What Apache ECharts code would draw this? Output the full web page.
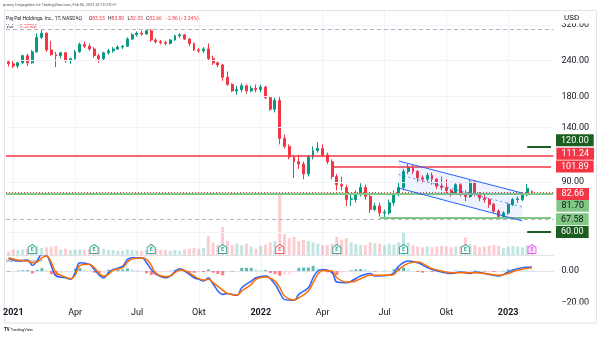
<!DOCTYPE html>
<html><head><meta charset="utf-8">
<script src="https://cdn.jsdelivr.net/npm/echarts@6.0.0/dist/echarts.min.js"></script>
<style>html,body{margin:0;padding:0;background:#fff}#c{width:600px;height:337px}</style>
</head><body><div id="c"></div>
<script>
// ---------- data ----------
const firstWeek = [2020, 11, 28];        // Monday of first weekly bar (Dec 28 2020)
const weekCount = 115;                  // 111 weekly bars + empty space on the right
const monthNames = ['Jan','Feb','Mär','Apr','Mai','Jun','Jul','Aug','Sep','Okt','Nov','Dez'];
// weekly candles: [open, close, low, high]
const ohlc = [
 [238,234,229,242],[234,230,226,240],[230,236,226,238],[236,250,234,252],[250,236,230,254],
 [236,258,234,262],[258,290,256,300],[290,300,286,310],[300,262,258,302],[262,252,250,282],
 [252,250,228,258],[250,256,244,258],[256,240,236,258],[240,244,234,246],[244,258,242,262],
 [258,274,256,278],[274,270,266,280],[270,264,260,276],[264,250,246,268],[250,244,236,254],
 [244,256,240,258],[256,260,252,264],[260,264,256,268],[264,268,262,272],[268,270,264,272],
 [270,286,268,290],[286,296,284,300],[296,300,292,304],[300,298,294,306],[298,306,296,310],
 [306,284,280,310],[284,280,276,288],[280,278,274,284],[278,276,272,282],[276,284,274,286],
 [284,294,282,296],[294,296,288,300],[296,286,284,298],[286,276,270,288],[276,262,260,278],
 [262,260,256,266],[260,264,256,268],[264,244,240,276],[244,236,232,250],[236,232,228,238],
 [232,210,204,234],[210,198,196,220],[198,188,186,200],[188,190,182,196],[190,196,186,200],
 [196,188,184,198],[188,192,186,196],[192,190,186,198],[190,194,186,198],[194,178,176,196],
 [178,162,160,180],[162,174,158,178],[174,128,122,180],[128,120,118,132],[120,110,108,122],
 [110,106,93,112],[106,104,100,112],[104,96,92,106],[96,110,94,112],[110,116,108,120],
 [116,118,114,124],[118,112,110,122],[112,106,104,114],[106,94,92,108],[94,88,84,96],
 [88,87,84,94],[86,78,74,88],[78,78.5,74,82],[78,82,76,84],[82,86,80,89],
 [86,80,78,88],[80,72,70,82],[72,74,71,76],[74,70,68,76],[70,70.5,67.58,72],
 [70,76,69,78],[76,82,74,84],[82,86,80,90],[86,98,84,100],[98,101,96,104],
 [101,98,96,104],[98,93,90,99],[93,92,89,95],[92,95,90,97],[95,92,88,97],
 [92,87,85,93],[87,86,84,94],[86,84,82,92],[84,82,80,85],[82,88,81,89],
 [88,82,80,89],[82,80,77,84],[80,90,79,92],[90,82,80,91],[82,79,77,83],
 [79,78,76,81],[78,75,73,79],[75,71,70,76],[71,68,67,72],[68,70,66.39,71],
 [70,75,69,76],[75,78,74,79],[78,78.5,76,80],[78,81,77,82],[81,85.52,80,88.5],
 [83.33,82.66,82.33,83.80]
];
// volume (millions)
const volume = [
 5,8,7,8,9,14,12,10,11,12, 13,8,9,7,8,8,7,9,12,11, 9,7,7,6,6,8,7,6,6,7,
 16,9,7,7,6,7,6,8,9,10, 9,10,27,18,14,40,20,14,16,14, 16,12,9,13,15,18,20,88,30,24,
 26,20,22,20,18,16,14,14,16,26, 22,24,18,16,15,14,18,17,16,14, 16,15,18,33,18,14,12,11,12,11,
 12,13,12,11,12,13,25,16,14,11, 12,13,14,13,10,12,13,12,11,14, 9.6
];
const lastChange = [-2.86, -3.34];
const lastVolume = '9.579M';
// MACD (12,26,9) read at these week indices
const macdAt = [0,2,4,5,6,7,8,9,10,12,13,14,15,17,18,20,21,22,24,25,26,28,29,30,31,33,34,36,37,39,
 40,41,42,43,45,46,48,49,51,52,54,56,57,58,60,61,63,64,65,66,68,69,71,72,74,76,77,80,81,82,
 84,86,88,89,91,93,95,97,98,101,103,105,107,110];
const macdLine = [7.8,6.3,6.9,3.5,6.3,10.4,9.8,3.1,-3.1,-4.2,-5.2,-1,5.2,4.2,1,-4.2,-1,1,3.1,7.3,
 8.3,8.3,5.2,1,-2.1,-4.2,-3.1,1.5,0,-4.2,-5.2,-6.3,-4.2,-8.3,-14.6,-14,-15.2,-10.4,-6.3,-4.2,
 -3.1,-8.3,-13.5,-17.7,-18.3,-14.6,-10.4,-4.2,0,1,-1,-6.9,-7.3,-6.3,-3.1,-1.5,-3.1,-2.7,-1,3.1,
 6.3,5.2,2.1,1,-0.6,-1.5,-0.6,-1.5,-0.6,-2.1,-3.1,-0.6,1.5,2.5];
const signalLine = [8.3,6.7,6.3,5.2,5.6,8.3,9.4,5.2,-1,-3.8,-4.8,-2.7,3.5,4.2,2.1,-3.1,-2.1,0.6,2.1,5.6,
 7.7,8.1,7.3,3.5,-1.5,-3.5,-3.1,0.6,0.4,-3.1,-4.8,-5.6,-5.2,-7.3,-11.9,-14,-15,-12.5,-8.3,-5.2,
 -3.8,-6.3,-10.4,-15.6,-18.1,-16.7,-12.5,-7.3,-2.1,0.4,0,-4.2,-6.9,-6.9,-4.8,-2.7,-2.7,-2.7,-2.1,1,
 4.8,5.6,3.1,1.5,0,-1,-1,-1,-1,-1.9,-2.7,-1.5,0.6,2.1];
const histogram = [
 -0.4,-0.3,0.3,0.5,0.6,-1.5,0.8,1.8,0.5,-2, -3,-1.5,-0.8,-0.4,1.5,1.8,0.8,0.2,-1,-1.2,
 -1,0.8,0.5,0.8,1,1.6,1.2,0.6,0.2,-1.4, -2.5,-1.6,-0.8,-0.5,0.2,0.8,0.8,-0.4,-1,-1.1,
 -0.5,-0.6,1,-1,-1.8,-2.7,0,-0.3,-0.2,2, 2,2,1,0.5,0.6,-1.2,-2,-3,-2.3,-2,
 -0.3,2,2.2,2.2,3.2,2,0.8,-0.8,-1.5,-2.5, -1,-0.4,0.5,1,1.3,1.2,0.2,-0.4,0,0.3,
 0.2,1,2,2.2,1.5,0,-0.6,-1,-0.5,-0.5, -0.4,-0.6,-0.5,-0.2,0.3,-0.2,-0.4,0.2,0.3,0.2,
 -0.3,-0.2,-0.5,-0.4,0.2,1,1.1,1,0.8,0.5, 0.4];
// earnings events
const earningsWeeks = ['2021-02-01','2021-05-03','2021-07-26','2021-11-08','2022-01-31','2022-04-25','2022-08-01','2022-10-31','2023-02-06'];
const earningsKind  = ['beat','beat','beat','beat','miss','beat','beat','beat','next'];
// price scale ticks
const priceTicks = [320, 240, 180, 140, 90, 60];
const macdTicks = [0, -20];
// drawn levels
const redLevels = [111.24, 101.89];
const redStartWeek = [null, '2022-04-18'];
const greenLevels = [81.70, 67.58];
const greenStartWeek = [null, '2022-06-27'];
const targetLevels = [120.00, 60.00];
const targetStartWeek = '2023-01-30';
const lastPrice = 82.66;
const highLow = [310.16, 66.39];
// descending channel: week indices and prices (upper, middle, lower)
const channelWeeks = [82, 108];
const channelUpper = [106.6, 82.2];
const channelMid = [95.5, 73.4];
const channelLower = [85.6, 65.6];

// ---------- build ----------
const weeks = [];
for (let i = 0; i < weekCount; i++) {
  const d = new Date(Date.UTC(firstWeek[0], firstWeek[1], firstWeek[2] + 7 * i));
  weeks.push(d.toISOString().slice(0, 10));
}
const lastWeek = weeks[weeks.length - 1];
const FONT = 'Roboto, "Noto Sans", sans-serif';
const UP = '#089981', DOWN = '#f23645';
const fmt = v => v.toFixed(2);
const fmtS = v => (v < 0 ? '\u2212' : '') + Math.abs(v).toFixed(2);
function isQuarterStart(v) {
  const m = +v.slice(5, 7), d = +v.slice(8, 10);
  return (m === 1 || m === 4 || m === 7 || m === 10) && d <= 7;
}
const labelBase = { show: true, position: 'end', fontSize: 9, fontFamily: FONT, padding: [1, 5], lineHeight: 10 };

const ml = [];
priceTicks.forEach(v => ml.push({ yAxis: v, lineStyle: { color: '#f0f3fa', type: 'solid', width: 1 },
  label: Object.assign({}, labelBase, { distance: 3, color: '#131722', formatter: fmt(v) }) }));
highLow.forEach(v => ml.push({ yAxis: v, lineStyle: { color: '#b2b5be', type: [4, 3], width: 1 }, label: { show: false } }));
function level(v, start, color, width, type, lab) {
  const ls = { color: color, width: width, type: type };
  if (start) {
    ml.push([{ coord: [start, v], lineStyle: ls, label: Object.assign({}, labelBase, { distance: 5 }, lab) }, { coord: [lastWeek, v] }]);
  } else {
    ml.push({ yAxis: v, lineStyle: ls, label: Object.assign({}, labelBase, { distance: 3 }, lab) });
  }
}
level(redLevels[0], redStartWeek[0], DOWN, 1.5, 'solid', { backgroundColor: DOWN, color: '#fff', formatter: fmt(redLevels[0]), offset: [0, -2] });
level(redLevels[1], redStartWeek[1], DOWN, 1.5, 'solid', { backgroundColor: DOWN, color: '#fff', formatter: fmt(redLevels[1]) });
level(greenLevels[0], greenStartWeek[0], '#81c784', 2, 'solid', { backgroundColor: '#81c784', color: '#131722', formatter: fmt(greenLevels[0]), offset: [0, 12] });
level(greenLevels[1], greenStartWeek[1], '#81c784', 2, 'solid', { backgroundColor: '#81c784', color: '#131722', formatter: fmt(greenLevels[1]), offset: [0, 2] });
level(targetLevels[0], targetStartWeek, '#1b5e20', 2, 'solid', { backgroundColor: '#1b5e20', color: '#fff', formatter: fmt(targetLevels[0]), offset: [0, -6] });
level(targetLevels[1], targetStartWeek, '#1b5e20', 2, 'solid', { backgroundColor: '#1b5e20', color: '#fff', formatter: fmt(targetLevels[1]) });
level(lastPrice, null, DOWN, 1, [1, 2], { backgroundColor: DOWN, color: '#fff', formatter: fmt(lastPrice), offset: [0, 1.5] });

const volData = volume.map((v, i) => ({ value: v, itemStyle: { color: ohlc[i][1] >= ohlc[i][0] ? 'rgba(8,153,129,0.25)' : 'rgba(242,54,69,0.25)' } }));
const eColors = { beat: ['#089981', '#ffffff'], miss: ['#f23645', '#ffffff'], next: ['#e040fb', '#fbe3fe'] };
const eData = earningsWeeks.map((w, i) => ({ value: [w, 8.5],
  itemStyle: { color: eColors[earningsKind[i]][1], borderColor: eColors[earningsKind[i]][0], borderWidth: 1 },
  label: { color: eColors[earningsKind[i]][0] } }));
const histData = histogram.map((v, i) => {
  const prev = i > 0 ? histogram[i - 1] : v;
  const c = v >= 0 ? (v >= prev ? '#26a69a' : '#b2dfdb') : (v <= prev ? '#ff5252' : '#ffcdd2');
  return { value: v, itemStyle: { color: c, opacity: 0.75 } };
});
const macdData = macdAt.map((w, i) => [w, macdLine[i]]);
const sigData = macdAt.map((w, i) => [w, signalLine[i]]);

const GL = 6, GR = 46.6;
const xBase = { type: 'category', data: weeks, boundaryGap: true, axisTick: { show: false } };
const vSplit = { show: true, alignWithLabel: true, interval: (i, v) => isQuarterStart(v), lineStyle: { color: '#f0f3fa', width: 1 } };

const option = {
  animation: false,
  textStyle: { fontFamily: FONT },
  grid: [
    { left: GL, right: GR, top: 11, height: 244.5 },
    { left: GL, right: GR, top: 185, height: 70 },
    { left: GL, right: GR, top: 256, height: 48 }
  ],
  xAxis: [
    Object.assign({}, xBase, { gridIndex: 0, axisLabel: { show: false }, axisLine: { show: true, lineStyle: { color: '#e0e3eb' } }, splitLine: vSplit }),
    Object.assign({}, xBase, { gridIndex: 1, show: false }),
    Object.assign({}, xBase, { gridIndex: 2, axisLine: { show: true, lineStyle: { color: '#e0e3eb' } }, splitLine: vSplit,
      axisLabel: { interval: (i, v) => isQuarterStart(v), fontSize: 9, color: '#131722', margin: 4, fontFamily: FONT,
        formatter: v => { const m = +v.slice(5, 7); return m === 1 ? '{y|' + v.slice(0, 4) + '}' : monthNames[m - 1]; },
        rich: { y: { fontWeight: 'bold', fontSize: 9, color: '#131722', fontFamily: FONT } } } })
  ],
  yAxis: [
    { type: 'log', gridIndex: 0, min: 49.6, max: 359, position: 'right', axisLabel: { show: false }, axisLine: { show: false }, axisTick: { show: false }, splitLine: { show: false } },
    { type: 'value', gridIndex: 1, min: 0, max: 100, show: false },
    { type: 'value', gridIndex: 2, min: -20.6, max: 9.4, position: 'right', axisLine: { show: false }, axisTick: { show: false }, splitLine: { show: false },
      axisLabel: { customValues: macdTicks, formatter: fmtS, fontSize: 9, color: '#131722', margin: 8, fontFamily: FONT } }
  ],
  series: [
    { type: 'bar', xAxisIndex: 1, yAxisIndex: 1, data: volData, barWidth: 3, z: 1, silent: true },
    { type: 'scatter', xAxisIndex: 1, yAxisIndex: 1, data: eData, z: 4, silent: true,
      symbol: 'path://M4,0 L8,3 L8,10 L0,10 L0,3 Z', symbolSize: [8, 9],
      label: { show: true, formatter: 'E', position: 'inside', fontSize: 5.5, fontWeight: 'bold', offset: [0, 1] } },
    { type: 'candlestick', xAxisIndex: 0, yAxisIndex: 0, data: ohlc, barWidth: 2.4, z: 3,
      itemStyle: { color: UP, color0: DOWN, borderColor: UP, borderColor0: DOWN, borderWidth: 1 },
      markLine: { silent: true, symbol: ['none', 'none'], animation: false, precision: 2, data: ml } },
    { type: 'custom', xAxisIndex: 0, yAxisIndex: 0, z: 5, silent: true, data: [[channelWeeks[0], channelUpper[0]]],
      renderItem: (params, api) => {
        const p = (i, v) => api.coord([channelWeeks[i], v]);
        const u0 = p(0, channelUpper[0]), u1 = p(1, channelUpper[1]);
        const l0 = p(0, channelLower[0]), l1 = p(1, channelLower[1]);
        const m0 = p(0, channelMid[0]), m1 = p(1, channelMid[1]);
        return { type: 'group', children: [
          { type: 'polygon', shape: { points: [u0, u1, l1, l0] }, style: { fill: 'rgba(41,98,255,0.08)' } },
          { type: 'line', shape: { x1: u0[0], y1: u0[1], x2: u1[0], y2: u1[1] }, style: { stroke: '#2962ff', lineWidth: 1 } },
          { type: 'line', shape: { x1: l0[0], y1: l0[1], x2: l1[0], y2: l1[1] }, style: { stroke: '#2962ff', lineWidth: 1 } },
          { type: 'line', shape: { x1: m0[0], y1: m0[1], x2: m1[0], y2: m1[1] }, style: { stroke: '#2962ff', lineWidth: 1, lineDash: [2, 3], opacity: 0.7 } }
        ] };
      } },
    { type: 'bar', xAxisIndex: 2, yAxisIndex: 2, data: histData, barWidth: 3, silent: true },
    { type: 'line', xAxisIndex: 2, yAxisIndex: 2, data: macdData, smooth: 0.4, showSymbol: false, lineStyle: { color: '#2962ff', width: 1.5 }, silent: true },
    { type: 'line', xAxisIndex: 2, yAxisIndex: 2, data: sigData, smooth: 0.4, showSymbol: false, lineStyle: { color: '#ff6d00', width: 1.5 }, silent: true }
  ],
  graphic: [
    { type: 'rect', silent: true, z: -10, shape: { x: 4.5, y: 10.5, width: 592, height: 312.5 }, style: { fill: 'none', stroke: '#e0e3eb', lineWidth: 1 } },
    { type: 'text', silent: true, x: 3, y: 3.5, style: { text: 'pvarny freigegeben für TradingView.com, Feb 06, 2023 20:15 UTC+1', fontSize: 3.8, fontFamily: FONT, fill: '#50535e' } },
    { type: 'text', silent: true, x: 6, y: 13, style: {
        text: '{n|PayPal Holdings, Inc., 1T, NASDAQ}  {n|O}{r|' + fmt(ohlc[110][0]) + '} {n|H}{r|' + fmt(ohlc[110][3]) + '} {n|L}{r|' + fmt(ohlc[110][2]) + '} {n|C}{r|' + fmt(ohlc[110][1]) + '} {r|' + fmtS(lastChange[0]) + ' (' + fmtS(lastChange[1]) + '%)}',
        rich: { n: { fill: '#131722', fontSize: 5, fontFamily: FONT }, r: { fill: DOWN, fontSize: 5, fontFamily: FONT } } } },
    { type: 'text', silent: true, x: 6, y: 20.5, style: { text: '{n|Vol}  {r|' + lastVolume + '}',
        rich: { n: { fill: '#131722', fontSize: 5, fontFamily: FONT }, r: { fill: DOWN, fontSize: 5, fontFamily: FONT } } } },
    { type: 'rect', silent: true, z: 100, shape: { x: 554.5, y: 11, width: 41.5, height: 12.5 }, style: { fill: '#ffffff' } },
    { type: 'text', silent: true, z: 101, x: 564, y: 13.5, style: { text: 'USD', fontSize: 8, fontFamily: FONT, fill: '#131722' } },
    { type: 'rect', silent: true, z: 100, shape: { x: 554.5, y: 304.5, width: 41.5, height: 6 }, style: { fill: '#ffffff' } },
    { type: 'text', silent: true, x: 6, y: 259, style: { text: 'MACD 12 26 close 9', fontSize: 4, fontFamily: FONT, fill: '#787b86' } },
    { type: 'text', silent: true, x: 4, y: 327.5, style: { text: '{b|TV} TradingView',
        rich: { b: { fontWeight: 'bold', fontSize: 4.5, fill: '#131722', fontFamily: FONT } }, fontSize: 4, fontFamily: FONT, fill: '#131722' } }
  ]
};
const chart = echarts.init(document.getElementById('c'), null, { renderer: 'canvas', width: 600, height: 337 });
chart.setOption(option);
</script>
</body></html>
